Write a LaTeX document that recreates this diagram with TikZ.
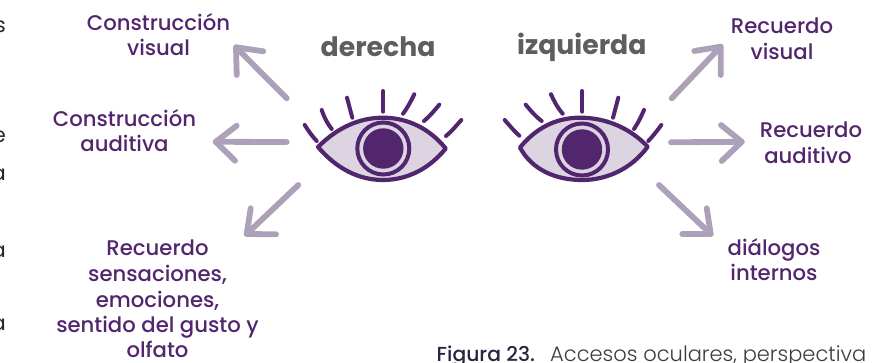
\documentclass[tikz,border=0pt]{standalone}
\usepackage{fontspec}
\setmainfont{Poppins}
\newfontfamily\popmed{Poppins Medium}
\newfontfamily\poplight{Poppins Light}
\newfontfamily\popbold{Poppins}[UprightFont=* Bold]
\definecolor{plum}{HTML}{52266E}
\definecolor{lilac}{HTML}{DCD4E0}
\definecolor{arrowgrey}{HTML}{ADA1B9}
\definecolor{headgrey}{HTML}{5F5D60}
\definecolor{capdark}{HTML}{2A2540}
\definecolor{capgrey}{HTML}{3C3C44}
\tikzset{
  lab/.style={anchor=base,inner sep=0pt,text=plum,font=\popmed\fontsize{21.2}{22}\selectfont},
  head/.style={anchor=base west,inner sep=0pt,text=headgrey,font=\popbold\fontsize{26.7}{27}\selectfont},
  arr/.style={draw=arrowgrey,line width=5.8pt,line cap=round,line join=round},
  lash/.style={draw=plum,line width=4pt,line cap=round},
  lid/.style={draw=plum,line width=4.2pt,line join=round,fill=lilac},
  ring/.style={draw=plum,line width=4pt,fill=lilac},
  pupil/.style={fill=plum,draw=none},
  edge/.style={anchor=base east,inner sep=0pt,text=black!85,font=\fontsize{21}{21}\selectfont}
}
\begin{document}
\begin{tikzpicture}[x=1pt,y=-1pt]
\useasboundingbox (0,0) rectangle (896,363);
\fill[white] (0,0) rectangle (896,363);
\begin{scope}
\clip (0,0) rectangle (6,363);
\node[edge] (e1) at (6,33) {s};
\node[edge] (e2) at (6,142.5) {e};
\node[edge] (e3) at (6,180.5) {a};
\node[edge] (e4) at (6,257.5) {a};
\node[edge] (e5) at (6,330.5) {a};
\end{scope}
% labels
\node[lab] (cv1) at (158.5,31) {Construcción};
\node[lab] (cv2) at (158.5,56) {visual};
\node[lab] (ca1) at (124.5,126.5) {Construcción};
\node[lab] (ca2) at (124.5,152) {auditiva};
\node[lab] (rs1) at (157.5,255.5) {Recuerdo};
\node[lab] (rs2) at (157.5,281) {sensaciones,};
\node[lab] (rs3) at (157.5,307) {emociones,};
\node[lab] (rs4) at (157.5,332) {sentido del gusto y};
\node[lab] (rs5) at (157.5,357.5) {olfato};
\node[lab] (rv1) at (782,34) {Recuerdo};
\node[lab] (rv2) at (782,60) {visual};
\node[lab] (ra1) at (811,137.5) {Recuerdo};
\node[lab] (ra2) at (808,164) {auditivo};
\node[lab] (di1) at (774,255) {diálogos};
\node[lab] (di2) at (774,280) {internos};
\node[head] (der) at (320.5,57) {derecha};
\node[head] (izq) at (517,55) {izquierda};
\node[anchor=base west,inner sep=0pt,font=\fontsize{20.3}{21}\selectfont,text=capdark] (capa) at (436.5,361) {\popmed Figura 23.};
\node[anchor=base west,inner sep=0pt,font=\poplight\fontsize{21}{21}\selectfont,text=capgrey] (capb) at (550,361) {Accesos oculares, perspectiva};
% arrows
\coordinate (a1s) at (286.7,98.3);  \coordinate (a1e) at (236,47.3);
\coordinate (a2s) at (286.7,142);   \coordinate (a2e) at (215.7,141.8);
\coordinate (a3s) at (298.3,185);   \coordinate (a3e) at (246.7,234);
\coordinate (b1s) at (671.7,98.3);  \coordinate (b1e) at (720.7,46.7);
\coordinate (b2s) at (671,142.3);   \coordinate (b2e) at (741.7,141.8);
\coordinate (b3s) at (659,185);     \coordinate (b3e) at (710.7,234);
\draw[arr] (a1s) -- (a1e);
\draw[arr] (263.3,51.3) -- (a1e) -- (236.7,75);
\draw[arr] (a2s) -- (a2e);
\draw[arr] (236.7,125.7) -- (a2e) -- (235,160.7);
\draw[arr] (a3s) -- (a3e);
\draw[arr] (250.7,208.3) -- (a3e) -- (276,234.3);
\draw[arr] (b1s) -- (b1e);
\draw[arr] (694.3,51) -- (b1e) -- (720.7,75);
\draw[arr] (b2s) -- (b2e);
\draw[arr] (721,125) -- (b2e) -- (721.7,161);
\draw[arr] (b3s) -- (b3e);
\draw[arr] (706.7,208.3) -- (b3e) -- (682.3,234);
% first eye
\draw[lid] (318,147) .. controls (338,127) and (360,117.7) .. (383,117.7)
  .. controls (408,117.7) and (430,129) .. (445.7,148.5)
  .. controls (430,168) and (408,180) .. (383,180)
  .. controls (358,180) and (336,168) .. cycle;
\draw[ring] (383.3,148.5) circle (26);
\fill[pupil] (383.3,148.5) circle (20.2);
\draw[lash] (304.7,125) .. controls (308.5,131) and (312,136) .. (316.7,141);
\draw[lash] (321.7,110) .. controls (324,117) and (327,123) .. (331.7,129);
\draw[lash] (347,97.7) -- (352.3,117.7);
\draw[lash] (383,91) -- (383,111.7);
\draw[lash] (414.3,94.3) .. controls (411,101) and (408,107) .. (403,113.7);
\draw[lash] (439.3,104.7) .. controls (434,111) and (430,116) .. (424,121);
\draw[lash] (461.3,120) .. controls (456,126) and (452,131) .. (446,136);
% second eye
\draw[lid] (520,147.5) .. controls (536,128) and (556,117.7) .. (580,117.7)
  .. controls (606,117.7) and (630,128) .. (647.7,146.7)
  .. controls (632,168) and (608,180) .. (582,180)
  .. controls (556,180) and (532,170) .. cycle;
\draw[ring] (582,149.5) circle (26);
\fill[pupil] (582,149.5) circle (20.2);
\draw[lash] (504.7,120) .. controls (510,126) and (514,131) .. (519.3,135.7);
\draw[lash] (525.7,104.7) .. controls (531,111) and (535,116) .. (541.7,121);
\draw[lash] (551,94.3) .. controls (554,101) and (557,107) .. (562.7,113.7);
\draw[lash] (582.3,91) -- (582.3,111.7);
\draw[lash] (618.3,97.7) -- (613,117.7);
\draw[lash] (644,110) .. controls (641,117) and (638,123) .. (634,129);
\draw[lash] (661.3,125) .. controls (657,131) and (653,136) .. (648.3,141);
\end{tikzpicture}
\end{document}
